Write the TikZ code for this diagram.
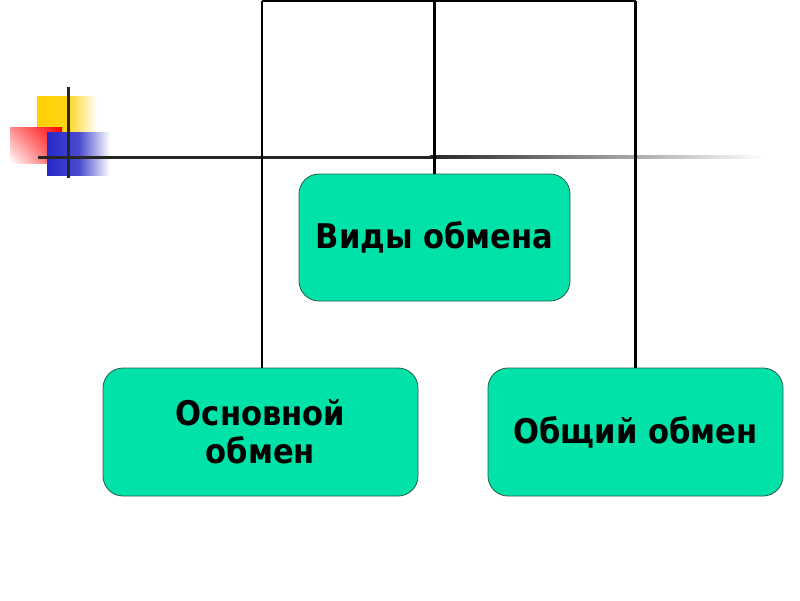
\documentclass[tikz,border=0pt]{standalone}
\usepackage{fontspec}
\setmainfont{DejaVu Sans}
\newfontfamily\boxfont{DejaVu Sans Condensed}
\usetikzlibrary{shadings}
\definecolor{boxfill}{RGB}{0,226,168}
\definecolor{boxline}{RGB}{40,90,75}
\definecolor{decoyellow}{RGB}{255,208,0}
\definecolor{decored}{RGB}{255,0,0}
\definecolor{decoblue}{RGB}{40,40,200}
\tikzset{
  kind/.style={draw=boxline, line width=0.8pt, fill=boxfill, rounded corners=20pt,
    font=\boxfont\fontsize{34}{38}\selectfont\bfseries, align=center, inner sep=0pt},
  link/.style={draw=black, line width=2.2pt},
  decoline/.style={draw=black!85, line width=3pt}
}
\begin{document}
\begin{tikzpicture}[x=1pt,y=-1pt]
\useasboundingbox (0,0) rectangle (800,600);
% decoration
\shade[left color=decoyellow, right color=white, middle color=decoyellow!90] (37,96) rectangle (97,134);
\shade[upper right=decored, lower left=white, upper left=decored!45!white, lower right=decored!70!white] (10,127) rectangle (62,163);
\shade[left color=decoblue, right color=white, middle color=decoblue!85] (47,132) rectangle (110,175);
\draw[decoline] (38,157) -- (430,157);
\shade[left color=black!85, right color=white] (430,155.5) rectangle (765,158.5);
\draw[decoline] (68,87) -- (68,178);
% nodes
\node[kind, minimum width=271pt, minimum height=127pt] (top) at (434.5,237.5) {Виды обмена};
\node[kind, minimum width=315pt, minimum height=128pt] (left) at (260.5,432) {Основной\\обмен};
\node[kind, minimum width=295pt, minimum height=128pt] (right) at (635.5,432) {Общий обмен};
\coordinate (tl) at (262,1);
\coordinate (tm) at (434.5,1);
\coordinate (tr) at (635.5,1);
\draw[link] (tl) -- (tr);
\draw[link] (top.north) -- (tm);
\draw[link] (left.north -| tl) -- (tl);
\draw[link] (right.north) -- (tr);
\end{tikzpicture}
\end{document}
